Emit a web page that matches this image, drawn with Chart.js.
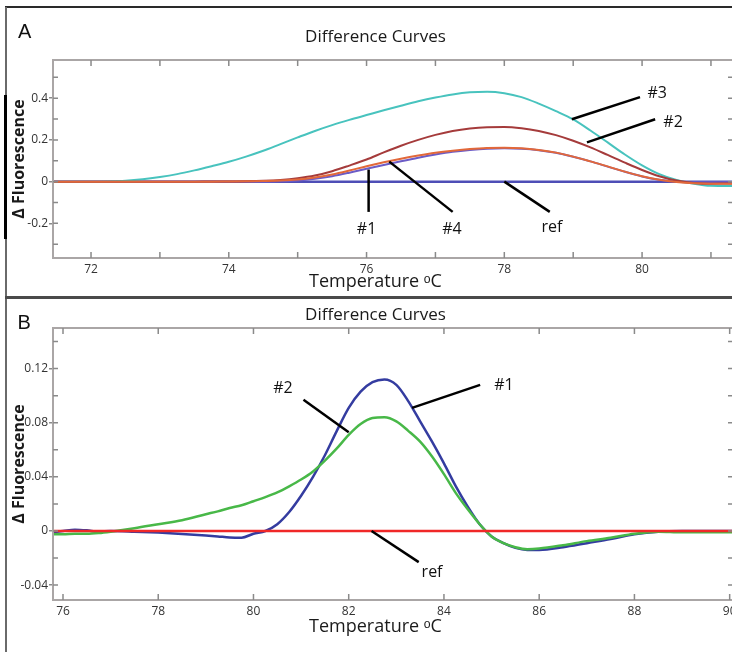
<!doctype html>
<html lang="en">

<head>
  <meta charset="utf-8">
  <title>Difference Curves</title>
  <script src="https://cdn.jsdelivr.net/npm/chart.js/dist/chart.umd.min.js"></script>
  <style>
    body { margin: 0; background: #fff; }
    .page { position: relative; width: 732px; height: 652px; overflow: hidden; }
    .panel { position: absolute; left: 0; }
    #panelA { top: 8px; }
    #panelB { top: 299px; }
    .letter { position: absolute; font: 20px "Liberation Sans", Arial, sans-serif; line-height: 20px; color: #111; }
    .rule { position: absolute; }
  </style>
</head>

<body>
  <div class="page">
    <div class="panel" id="panelA"><canvas id="chartA" width="736" height="288"></canvas></div>
    <div class="panel" id="panelB"><canvas id="chartB" width="736" height="353"></canvas></div>
    <div class="rule" style="left:5px;top:6px;width:727px;height:2px;background:#2a2a2a"></div>
    <div class="rule" style="left:5px;top:7px;width:1.5px;height:645px;background:#6a6a6a"></div>
    <div class="rule" style="left:4px;top:95px;width:3px;height:144px;background:#000"></div>
    <div class="rule" style="left:5px;top:296px;width:727px;height:3px;background:#4a4a4a"></div>
    <span class="letter" style="left:18px;top:21px">A</span>
    <span class="letter" style="left:17.5px;top:312px">B</span>
  </div>

  <script>
    // ---- Panel A ----
    const tempsA = [71.25, 71.5, 71.75, 72, 72.25, 72.5, 72.75, 73, 73.25, 73.5, 73.75, 74, 74.25, 74.5,
      74.75, 75, 75.25, 75.5, 75.75, 76, 76.25, 76.5, 76.75, 77, 77.25, 77.5, 77.75, 78, 78.25, 78.5,
      78.75, 79, 79.25, 79.5, 79.75, 80, 80.25, 80.5, 80.75, 81, 81.25, 81.5];
    const curve3A = [0, 0, 0, 0, 0.001, 0.004, 0.011, 0.022, 0.036, 0.054, 0.074, 0.095, 0.12, 0.148,
      0.18, 0.212, 0.243, 0.271, 0.296, 0.319, 0.342, 0.364, 0.385, 0.403, 0.418, 0.428, 0.431, 0.424,
      0.405, 0.374, 0.338, 0.298, 0.245, 0.188, 0.13, 0.078, 0.036, 0.008, -0.01, -0.02, -0.021, -0.02];
    const curve2A = [0, 0, 0, 0, 0, 0, 0, 0, 0, 0, 0.001, 0.001, 0.002, 0.004,
      0.008, 0.016, 0.029, 0.05, 0.077, 0.106, 0.14, 0.172, 0.2, 0.224, 0.243, 0.255, 0.261, 0.262,
      0.256, 0.243, 0.223, 0.196, 0.164, 0.128, 0.091, 0.056, 0.026, 0.005, -0.006, -0.01, -0.009, -0.008];
    const curve4A = [0, 0, 0, 0, 0, 0, 0, 0, 0, 0, 0, 0.001, 0.002, 0.003,
      0.005, 0.01, 0.02, 0.034, 0.053, 0.074, 0.093, 0.11, 0.125, 0.138, 0.148, 0.156, 0.161, 0.162,
      0.16, 0.152, 0.139, 0.12, 0.097, 0.073, 0.048, 0.026, 0.009, -0.002, -0.008, -0.01, -0.01, -0.01];
    const curve1A = [0, 0, 0, 0, 0, 0, 0, 0, 0, 0, 0, 0, 0, 0,
      0.002, 0.006, 0.014, 0.026, 0.043, 0.062, 0.08, 0.098, 0.115, 0.13, 0.143, 0.152, 0.158, 0.16,
      0.158, 0.151, 0.138, 0.119, 0.097, 0.072, 0.047, 0.025, 0.009, 0, -0.003, -0.003, -0.002, -0.002];
    const refTempsA = [71.25, 81.5];
    const refA = [0, 0];

    const calloutTextA = ['#3', '#2', '#4', '#1', 'ref'];
    const calloutFromA = [[78.98, 0.299], [79.2, 0.188], [76.33, 0.096], [76.03, 0.058], [78.0, 0]];
    const calloutToA = [[79.97, 0.405], [80.19, 0.299], [77.25, -0.145], [76.03, -0.145], [78.66, -0.145]];
    const calloutAtA = [[80.22, 0.424], [80.45, 0.283], [77.24, -0.228], [76.0, -0.228], [78.69, -0.22]];

    // ---- Panel B ----
    const tempsB = [75.75, 76, 76.25, 76.5, 76.75, 77, 77.5, 78, 78.5, 79, 79.25, 79.5, 79.75, 80,
      80.25, 80.5, 80.75, 81, 81.25, 81.5, 81.75, 82, 82.25, 82.5, 82.75, 83, 83.25, 83.5, 83.75, 84,
      84.25, 84.5, 84.75, 85, 85.25, 85.5, 85.75, 86, 86.5, 87, 87.5, 88, 88.5, 89, 89.5, 90, 90.25];
    const curve1B = [-0.001, 0, 0.001, 0.0005, -0.0005, 0, -0.0005, -0.0012, -0.0022, -0.0033, -0.004,
      -0.0048, -0.005, -0.002, 0, 0.005, 0.014, 0.026, 0.04, 0.056, 0.074, 0.091, 0.103, 0.11, 0.112,
      0.108, 0.096, 0.081, 0.066, 0.05, 0.033, 0.018, 0.005, -0.004, -0.009, -0.0125, -0.014, -0.014,
      -0.012, -0.009, -0.006, -0.0025, -0.0005, 0, 0, 0, 0];
    const curve2B = [-0.0025, -0.0025, -0.002, -0.002, -0.0015, -0.0005, 0.002, 0.005, 0.008, 0.0124,
      0.0145, 0.017, 0.019, 0.022, 0.025, 0.0285, 0.033, 0.038, 0.044, 0.052, 0.061, 0.071, 0.079,
      0.0835, 0.084, 0.081, 0.074, 0.066, 0.055, 0.042, 0.028, 0.016, 0.005, -0.004, -0.009, -0.012,
      -0.0135, -0.013, -0.0105, -0.0075, -0.005, -0.002, -0.0005, -0.001, -0.001, -0.001, -0.001];
    const refTempsB = [75.75, 90.25];
    const refB = [0, 0];

    const calloutTextB = ['#2', '#1', 'ref'];
    const calloutFromB = [[81.05, 0.097], [83.33, 0.091], [82.48, 0]];
    const calloutToB = [[82.0, 0.073], [84.76, 0.108], [83.47, -0.023]];
    const calloutAtB = [[80.62, 0.105], [85.26, 0.1077], [83.75, -0.031]];

    Chart.defaults.font.family = '"Open Sans", sans-serif';
    Chart.defaults.color = '#333';

    function series(temps, values) {
      return temps.map((t, i) => ({ x: t, y: values[i] }));
    }

    // plot box, inward tick marks and the labelled pointer lines
    function framePlugin(texts, from, to, at) {
      return {
        id: 'frameAndCallouts',
        afterDatasetsDraw(chart) {
          const { ctx, chartArea: a, scales: { x, y } } = chart;
          ctx.save();
          ctx.strokeStyle = '#aaa6a6';
          ctx.lineWidth = 2;
          ctx.strokeRect(a.left, a.top, a.right - a.left, a.bottom - a.top);

          ctx.strokeStyle = '#8a8a8a';
          ctx.lineWidth = 1.5;
          ctx.beginPath();
          x.ticks.forEach(t => {
            const p = x.getPixelForValue(t.value);
            ctx.moveTo(p, a.bottom); ctx.lineTo(p, a.bottom - 6);
            ctx.moveTo(p, a.top); ctx.lineTo(p, a.top + 6);
          });
          y.ticks.forEach(t => {
            const p = y.getPixelForValue(t.value);
            ctx.moveTo(a.left, p); ctx.lineTo(a.left + 5, p);
            ctx.moveTo(a.right, p); ctx.lineTo(a.right - 5, p);
          });
          ctx.stroke();

          ctx.strokeStyle = '#000';
          ctx.lineWidth = 2.5;
          ctx.fillStyle = '#111';
          ctx.font = '16px "Open Sans"';
          ctx.textAlign = 'center';
          ctx.textBaseline = 'middle';
          texts.forEach((txt, i) => {
            ctx.beginPath();
            ctx.moveTo(x.getPixelForValue(from[i][0]), y.getPixelForValue(from[i][1]));
            ctx.lineTo(x.getPixelForValue(to[i][0]), y.getPixelForValue(to[i][1]));
            ctx.stroke();
            ctx.fillText(txt, x.getPixelForValue(at[i][0]), y.getPixelForValue(at[i][1]));
          });
          ctx.restore();
        }
      };
    }

    function makeChart(id, o) {
      return new Chart(document.getElementById(id), {
        type: 'line',
        data: { datasets: o.datasets },
        options: {
          responsive: false,
          animation: false,
          events: [],
          layout: { padding: { left: 18, right: 3, top: 0, bottom: 0 } },
          elements: {
            point: { radius: 0 },
            line: { borderWidth: 2, cubicInterpolationMode: 'monotone' }
          },
          plugins: {
            legend: { display: false },
            tooltip: { enabled: false },
            title: {
              display: true, text: 'Difference Curves', color: '#1a1a1a',
              font: { size: 17, weight: 'normal' }, padding: o.titlePad
            },
            subtitle: {
              display: true, position: 'bottom', text: 'Temperature ᵒC', color: '#1a1a1a',
              font: { size: 18, weight: 'normal' }, padding: o.xTitlePad
            }
          },
          scales: {
            x: {
              type: 'linear', min: o.xMin, max: o.xMax,
              grid: { display: false, drawTicks: false },
              border: { display: false },
              ticks: {
                stepSize: o.xStep, includeBounds: false, autoSkip: false, maxRotation: 0,
                padding: 4, font: { size: 12 }, callback: o.xLabel
              },
              afterFit: s => { s.height = 18.4; s.paddingLeft = 0; s.paddingRight = 0; }
            },
            y: {
              type: 'linear', min: o.yMin, max: o.yMax,
              border: { display: false },
              grid: {
                drawOnChartArea: false, tickLength: 4, lineWidth: 1.5,
                color: c => (c.tick && o.yLabel(c.tick.value) !== '') ? '#8a8a8a' : 'rgba(0,0,0,0)'
              },
              ticks: {
                stepSize: o.yStep, includeBounds: false, padding: 1,
                font: { size: 12 }, callback: o.yLabel
              },
              title: {
                display: true, text: 'Δ Fluorescence', color: '#1a1a1a',
                font: { size: 16, weight: 'bold' }, padding: { top: -8.6, bottom: 0 }
              },
              afterFit: s => { s.width = 35; s.paddingTop = 0; s.paddingBottom = 0; }
            }
          }
        },
        plugins: [framePlugin(o.texts, o.from, o.to, o.at)]
      });
    }

    makeChart('chartA', {
      datasets: [
        { label: '#4', data: series(tempsA, curve4A), borderColor: '#E2683A' },
        { label: '#2', data: series(tempsA, curve2A), borderColor: '#A53B3B' },
        { label: '#3', data: series(tempsA, curve3A), borderColor: '#48C3BE' },
        { label: '#1', data: series(tempsA, curve1A), borderColor: '#6C5CC6' },
        { label: 'ref', data: series(refTempsA, refA), borderColor: '#4E4EB6', borderWidth: 2.5 }
      ],
      titlePad: { top: 19.3, bottom: 12.3 },
      xTitlePad: { top: -5.2, bottom: 3.2 },
      xMin: 71.448, xMax: 81.32, xStep: 1,
      xLabel: v => (Math.round(v) % 2 === 0 ? String(v) : ''),
      yMin: -0.366, yMax: 0.583, yStep: 0.1,
      yLabel: v => (Math.abs(v * 5 - Math.round(v * 5)) < 1e-6 ? String(+v.toFixed(1)) : ''),
      texts: calloutTextA, from: calloutFromA, to: calloutToA, at: calloutAtA
    });

    makeChart('chartB', {
      datasets: [
        { label: 'ref', data: series(refTempsB, refB), borderColor: '#F02828', borderWidth: 2.5 },
        { label: '#2', data: series(tempsB, curve2B), borderColor: '#48B848', borderWidth: 2.5 },
        { label: '#1', data: series(tempsB, curve1B), borderColor: '#343CA0', borderWidth: 2.5 }
      ],
      titlePad: { top: 5.5, bottom: 3.1 },
      xTitlePad: { top: -2.4, bottom: 14.4 },
      xMin: 75.79, xMax: 90.07, xStep: 2,
      xLabel: v => String(v),
      yMin: -0.051, yMax: 0.150, yStep: 0.02,
      yLabel: v => (Math.abs(v * 25 - Math.round(v * 25)) < 1e-6 ? String(+v.toFixed(2)) : ''),
      texts: calloutTextB, from: calloutFromB, to: calloutToB, at: calloutAtB
    });
  </script>
</body>

</html>
